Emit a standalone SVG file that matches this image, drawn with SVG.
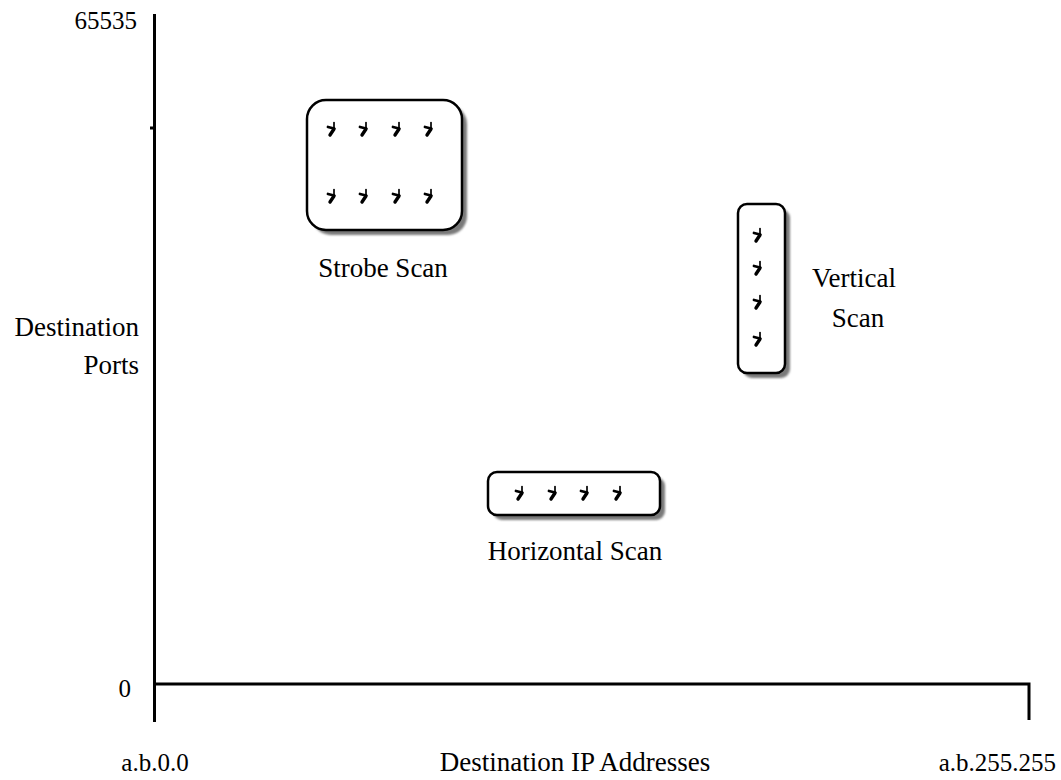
<svg xmlns="http://www.w3.org/2000/svg" width="1061" height="780" viewBox="0 0 1061 780">
  <style>
    .lbl { font-family: "Liberation Serif", "Times New Roman", serif; font-size: 27px; fill: #000; }
    .num { font-size: 25px; }
    .axis { stroke: #000; stroke-width: 3; fill: none; }
    .box { fill: #fff; stroke: #000; stroke-width: 2.5; }
    .shadow { fill: #7a7a7a; filter: url(#soft); }
    .mark path { fill: none; stroke: #000; stroke-linecap: round; stroke-linejoin: round; }
  </style>
  <defs>
    <filter id="soft" x="-10%" y="-10%" width="120%" height="120%">
      <feGaussianBlur stdDeviation="1.2"/>
    </filter>
    <!-- packet mark used inside each scan box -->
    <g id="pkt" class="mark">
      <path d="M7,0.5 V8" stroke-width="1.7"/>
      <path d="M1,5 L7,6.5" stroke-width="2.8"/>
      <path d="M7,7 L3,13" stroke-width="3.4"/>
    </g>
  </defs>
  <rect width="1061" height="780" fill="#fff"/>

  <!-- axes -->
  <g id="connectors">
    <path class="axis" d="M154.5,14 V722"/>
    <path class="axis" d="M150,128 H155" stroke-width="1.5"/>
    <path class="axis" d="M154.5,684 H1029 V720"/>
  </g>

  <!-- axis labels -->
  <g id="axis-labels">
    <text class="lbl num" x="137" y="29" text-anchor="end">65535</text>
    <text class="lbl num" x="131" y="697" text-anchor="end">0</text>
    <text class="lbl" x="139" y="336" text-anchor="end">Destination</text>
    <text class="lbl" x="139" y="374" text-anchor="end">Ports</text>
    <text class="lbl num" x="155" y="771" text-anchor="middle">a.b.0.0</text>
    <text class="lbl" x="575" y="771" text-anchor="middle">Destination IP Addresses</text>
    <text class="lbl num" x="1056" y="771" text-anchor="end">a.b.255.255</text>
  </g>

  <!-- strobe scan -->
  <g id="strobe-scan">
    <rect class="shadow" x="312" y="105" width="155" height="130" rx="19"/>
    <rect class="box" x="307" y="100" width="155" height="130" rx="19"/>
    <use href="#pkt" x="327" y="122"/>
    <use href="#pkt" x="359" y="122"/>
    <use href="#pkt" x="392" y="122"/>
    <use href="#pkt" x="424" y="122"/>
    <use href="#pkt" x="327" y="189"/>
    <use href="#pkt" x="359" y="189"/>
    <use href="#pkt" x="392" y="189"/>
    <use href="#pkt" x="424" y="189"/>
    <text class="lbl" x="383" y="277" text-anchor="middle">Strobe Scan</text>
  </g>

  <!-- vertical scan -->
  <g id="vertical-scan">
    <rect class="shadow" x="743" y="209" width="47" height="169" rx="9"/>
    <rect class="box" x="738" y="204" width="47" height="169" rx="9"/>
    <use href="#pkt" x="753" y="228"/>
    <use href="#pkt" x="753" y="261"/>
    <use href="#pkt" x="753" y="295"/>
    <use href="#pkt" x="753" y="332"/>
    <text class="lbl" x="854" y="287" text-anchor="middle">Vertical</text>
    <text class="lbl" x="858" y="327" text-anchor="middle">Scan</text>
  </g>

  <!-- horizontal scan -->
  <g id="horizontal-scan">
    <rect class="shadow" x="493" y="477" width="172" height="43" rx="9"/>
    <rect class="box" x="488" y="472" width="172" height="43" rx="9"/>
    <use href="#pkt" x="515" y="486"/>
    <use href="#pkt" x="548" y="486"/>
    <use href="#pkt" x="580" y="486"/>
    <use href="#pkt" x="613" y="486"/>
    <text class="lbl" x="575" y="560" text-anchor="middle">Horizontal Scan</text>
  </g>
</svg>
